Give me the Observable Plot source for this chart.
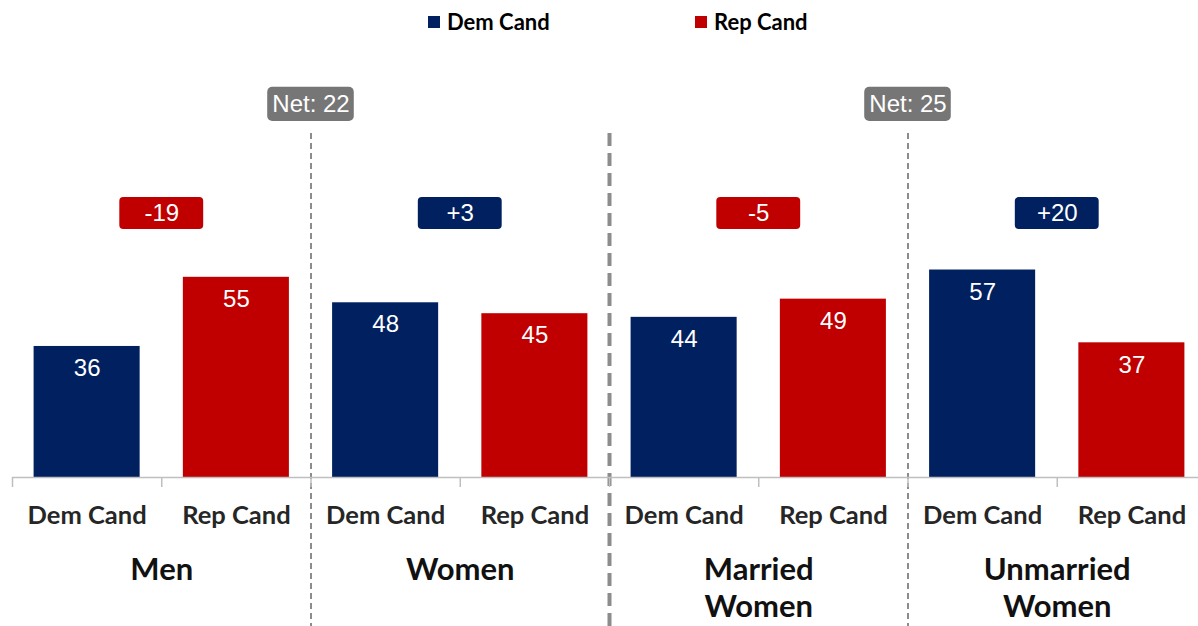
<!DOCTYPE html>
<html>
<head>
<meta charset="utf-8">
<script src="https://cdn.jsdelivr.net/npm/d3@7"></script>
<script src="https://cdn.jsdelivr.net/npm/@observablehq/plot@0.6"></script>
<style>
  html, body { margin: 0; padding: 0; background: #fff; overflow: hidden; width: 1198px; height: 626px; }
  #legend { position: relative; height: 44px; width: 1198px; font-family: Lato, "Open Sans", sans-serif; font-weight: 700; font-size: 22px; color: #000; }
  .item { position: absolute; top: 8px; display: flex; align-items: center; }
  .sw { width: 12px; height: 12px; margin-right: 7px; }
  #chart svg { display: block; overflow: visible; }
</style>
</head>
<body>
<div id="legend"></div>
<div id="chart"></div>
<script>
// ---- data ----
const groups = ["Men", "Women", "Married\nWomen", "Unmarried\nWomen"];
const candidates = ["Dem Cand", "Rep Cand"];
const demValues = [36, 48, 44, 57];
const repValues = [55, 45, 49, 37];
const colors = ["#002060", "#C00000"];
const netPairs = [[0, 1], [2, 3]];
const legendLefts = [428, 695];

// ---- derived tables ----
const bars = groups.flatMap((g, gi) => candidates.map((c, ci) => ({
  group: g, cand: c, slot: gi * 2 + ci,
  value: ci === 0 ? demValues[gi] : repValues[gi],
  color: colors[ci]
})));
const gaps = groups.map((g, gi) => {
  const gap = demValues[gi] - repValues[gi];
  return { group: g, center: gi * 2 + 1, gap, label: gap > 0 ? "+" + gap : String(gap), color: gap > 0 ? colors[0] : colors[1] };
});
const nets = netPairs.map(([a, b]) => ({ pos: b * 2, label: "Net: " + (gaps[b].gap - gaps[a].gap) }));
const separators = d3.range(1, groups.length).map(i => ({ pos: i * 2, thick: i === 2 }));
const slotEdges = d3.range(groups.length * 2 + 1);

// layout levels in value units
const badgeLevel = 72.5, netLevel = 102.5, sepTop = 94.5, sepBottom = -60;

// ---- legend ----
const legend = document.getElementById("legend");
candidates.forEach((c, i) => {
  const it = document.createElement("div");
  it.className = "item";
  it.style.left = legendLefts[i] + "px";
  it.innerHTML = `<div class="sw" style="background:${colors[i]}"></div><span>${c}</span>`;
  legend.appendChild(it);
});

// ---- chart ----
const catFont = "Lato, 'Open Sans', sans-serif";
const numFont = "Arial, 'Liberation Sans', sans-serif";

const chart = Plot.plot({
  width: 1198,
  height: 582,
  marginLeft: 12,
  marginRight: -8,
  marginTop: 69,
  marginBottom: 149,
  x: { type: "linear", domain: [0, groups.length * 2], axis: null },
  y: { type: "linear", domain: [0, 100], axis: null },
  marks: [
    // separators
    Plot.ruleX(separators.filter(d => !d.thick), { x: "pos", y1: sepTop, y2: sepBottom, stroke: "#8c8c8c", strokeWidth: 2, strokeDasharray: "6,4" }),
    Plot.ruleX(separators.filter(d => d.thick), { x: "pos", y1: sepTop, y2: sepBottom, stroke: "#8c8c8c", strokeWidth: 4, strokeDasharray: "13,7" }),
    // bars
    Plot.rectY(bars, { x1: "slot", x2: d => d.slot + 1, y: "value", fill: "color", insetLeft: 21.6, insetRight: 21.6 }),
    Plot.text(bars, { x: d => d.slot + 0.5, y: "value", text: d => String(d.value), dy: 22, fill: "white", fontSize: 24, fontFamily: numFont }),
    // axis
    Plot.ruleY([0], { stroke: "#bfbfbf", strokeWidth: 1.5 }),
    Plot.axisX({ ticks: slotEdges, tickSize: 10, tickFormat: () => "", stroke: "#bfbfbf", strokeWidth: 1.5 }),
    Plot.text(bars, { x: d => d.slot + 0.5, y: 0, text: "cand", dy: 38, fill: "#262626", fontSize: 25.5, fontWeight: 700, fontFamily: catFont }),
    Plot.text(groups.map((g, gi) => ({ g, c: gi * 2 + 1 })), { x: "c", y: 0, text: "g", dy: 76, lineAnchor: "top", lineHeight: 1.2, fill: "#111", fontSize: 31, fontWeight: 700, fontFamily: catFont }),
    // gap badges
    Plot.rect(gaps, { x1: d => d.center - 0.281, x2: d => d.center + 0.281, y1: badgeLevel - 4.4, y2: badgeLevel + 4.4, fill: "color", rx: 4 }),
    Plot.text(gaps, { x: "center", y: badgeLevel, text: "label", fill: "white", fontSize: 24, fontFamily: numFont }),
    // net badges
    Plot.rect(nets, { x1: d => d.pos - 0.29, x2: d => d.pos + 0.29, y1: netLevel - 4.7, y2: netLevel + 4.7, fill: "#767676", rx: 5 }),
    Plot.text(nets, { x: "pos", y: netLevel, text: "label", fill: "white", fontSize: 24, fontFamily: numFont })
  ]
});
document.getElementById("chart").appendChild(chart);
</script>
</body>
</html>
